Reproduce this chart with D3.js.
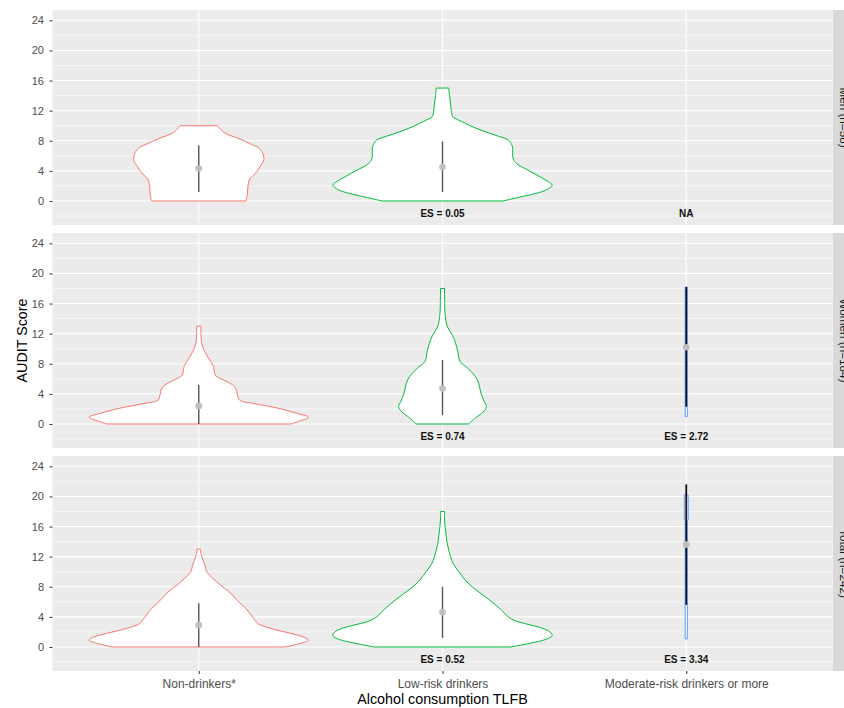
<!DOCTYPE html>
<html><head><meta charset="utf-8">
<script src="https://cdn.jsdelivr.net/npm/d3@7"></script>
<style>body{margin:0;background:#fff;} svg{display:block;font-family:"Liberation Sans",Arial,sans-serif;}</style>
</head><body><svg id="chart" width="844" height="708"></svg>
<script>
// ---------- DATA ----------
const categories = ["Non-drinkers*", "Low-risk drinkers", "Moderate-risk drinkers or more"];
const panels = ["Men (n=58)", "Women (n=184)", "Total (n=242)"];
const yTicks = [0, 4, 8, 12, 16, 20, 24];
const yMinor = [-2, 2, 6, 10, 14, 18, 22];
const xTitle = "Alcohol consumption TLFB";
const yTitle = "AUDIT Score";

// violin outlines: AUDIT score levels and relative width (% of widest violin)
const menNonY   = [0, 0.6, 2.1, 2.8, 3.3, 3.9, 4.6, 5.3, 6.1, 7.0, 7.6, 8.2, 9.1, 10];
const menNonW   = [43, 44, 45, 46, 49, 53, 56, 59, 59, 55, 47, 38, 23, 17];
const menLowY   = [0, 0.3, 0.6, 1.0, 1.5, 2.1, 2.6, 3.2, 4.1, 4.8, 5.4, 6.0, 7.0, 7.5, 8.1, 8.6, 9.2, 9.7, 10.3, 10.8, 11.2, 12, 13, 14, 15];
const menLowW   = [55, 64, 73, 85, 95, 100, 96, 89, 78, 69, 65, 64, 64, 63, 60, 51, 39, 30, 21, 14, 9.4, 8, 7.3, 6.4, 5.7];
const womNonY   = [0, 0.3, 0.9, 1.4, 2.1, 2.7, 3.2, 4.1, 4.9, 5.6, 6.1, 6.5, 7.2, 7.8, 8.5, 9.6, 10.7, 12, 13];
const womNonW   = [84, 90, 100, 90, 72, 51, 37, 35, 33, 26, 19, 15, 14, 13, 10, 5.5, 2.7, 2, 1.8];
const womLowY   = [0, 0.8, 1.6, 2.3, 3.0, 4.1, 5.4, 6.3, 7.4, 8.3, 9.6, 10.7, 11.8, 12.9, 14.7, 16, 18];
const womLowW   = [24, 30, 37, 40, 38, 35, 33, 30, 23, 16, 14, 12, 9, 4.5, 2.3, 2, 1.8];
const womModY   = [1.0, 18.2];
const womModW   = [1, 1];
const totNonY   = [0, 0.5, 0.9, 1.3, 1.8, 2.5, 3.1, 4.0, 5.1, 6.2, 7.3, 8.2, 9.1, 10.0, 10.9, 12, 13];
const totNonW   = [79, 93, 100, 96, 84, 65, 54, 49, 43, 35, 28, 20, 13, 7.3, 5.5, 2.7, 1.5];
const totLowY   = [0, 0.5, 1, 1.5, 2, 2.5, 3, 3.5, 4, 5, 6, 7, 8, 9, 10, 11, 12, 13, 14, 15, 16, 17, 18];
const totLowW   = [62, 80, 94, 100, 98, 91, 78, 66, 60, 53, 45, 36, 27, 20, 15, 10, 7.3, 5.5, 4, 3.2, 2.3, 1.8, 1.8];
const totModY   = [1.06, 16.8, 16.9, 20.2];
const totModW   = [1, 1, 1.8, 1.8];

// summary (mean and ± SD range) per panel/category
const sumPanel = [0, 0, 1, 1, 1, 2, 2, 2];
const sumCat   = [0, 1, 0, 1, 2, 0, 1, 2];
const sumLow   = [1.2, 1.2, 0, 1.2, 2.3, 0, 1.2, 5.6];
const sumHigh  = [7.4, 7.9, 5.2, 8.5, 18.2, 5.8, 8.0, 21.6];
const sumMean  = [4.3, 4.5, 2.4, 4.7, 10.2, 2.9, 4.6, 13.6];

// effect-size labels
const esPanel = [0, 0, 1, 1, 2, 2];
const esCat   = [1, 2, 1, 2, 1, 2];
const esText  = ["ES = 0.05", "NA", "ES = 0.74", "ES = 2.72", "ES = 0.52", "ES = 3.34"];
const esY = -1.6;

const violins = [
  {panel: 0, cat: 0, ys: menNonY, ws: menNonW},
  {panel: 0, cat: 1, ys: menLowY, ws: menLowW},
  {panel: 1, cat: 0, ys: womNonY, ws: womNonW},
  {panel: 1, cat: 1, ys: womLowY, ws: womLowW},
  {panel: 1, cat: 2, ys: womModY, ws: womModW},
  {panel: 2, cat: 0, ys: totNonY, ws: totNonW},
  {panel: 2, cat: 1, ys: totLowY, ws: totLowW},
  {panel: 2, cat: 2, ys: totModY, ws: totModW}
];

// ---------- LAYOUT ----------
const svg = d3.select("#chart");
const panelLeft = 52.5, panelRight = 832.5;
const panelTops = [10, 233, 456], panelH = 215;
const yDomain = [-3.19, 25.37];
const x = d3.scalePoint().domain(categories).range([panelLeft, panelRight]).padding(0.6);
const step = x.step();
const color = d3.scaleOrdinal().domain(categories).range(["#F8766D", "#00BA38", "#619CFF"]);
const FONT = "'Liberation Sans', Arial, sans-serif";

svg.append("rect").attr("width", 844).attr("height", 708).attr("fill", "#fff");

panels.forEach((pName, i) => {
  const top = panelTops[i], bottom = top + panelH;
  const y = d3.scaleLinear().domain(yDomain).range([bottom, top]);
  const g = svg.append("g");
  g.append("rect").attr("x", panelLeft).attr("y", top)
    .attr("width", panelRight - panelLeft).attr("height", panelH).attr("fill", "#EBEBEB");
  g.selectAll(".minor").data(yMinor).join("line")
    .attr("x1", panelLeft).attr("x2", panelRight)
    .attr("y1", d => y(d)).attr("y2", d => y(d))
    .attr("stroke", "#fff").attr("stroke-width", 0.55);
  g.selectAll(".major").data(yTicks).join("line")
    .attr("x1", panelLeft).attr("x2", panelRight)
    .attr("y1", d => y(d)).attr("y2", d => y(d))
    .attr("stroke", "#fff").attr("stroke-width", 1.1);
  g.selectAll(".vmajor").data(categories).join("line")
    .attr("x1", d => x(d)).attr("x2", d => x(d))
    .attr("y1", top).attr("y2", bottom)
    .attr("stroke", "#fff").attr("stroke-width", 1.1);

  // violins
  violins.filter(v => v.panel === i).forEach(v => {
    const data = v.ys.map((yy, k) => ({y: yy, w: v.ws[k]}));
    const cx = x(categories[v.cat]);
    const hw = d => d.w / 100 * 0.45 * step;
    const area = d3.area()
      .y(d => y(d.y))
      .x0(d => cx - hw(d))
      .x1(d => cx + hw(d))
      .curve(data.length > 4 ? d3.curveCatmullRom.alpha(0.5) : d3.curveLinear);
    g.append("path").attr("d", area(data))
      .attr("fill", "#fff").attr("stroke", color(categories[v.cat]))
      .attr("stroke-width", 1);
  });

  // summary lines & mean points
  sumPanel.forEach((p, k) => {
    if (p !== i) return;
    const cx = x(categories[sumCat[k]]);
    const dark = sumCat[k] === 2;
    g.append("line").attr("x1", cx).attr("x2", cx)
      .attr("y1", y(sumLow[k])).attr("y2", y(sumHigh[k]))
      .attr("stroke", dark ? "#111" : "#555").attr("stroke-width", dark ? 1.8 : 1.4);
  });
  sumPanel.forEach((p, k) => {
    if (p !== i) return;
    g.append("circle").attr("cx", x(categories[sumCat[k]])).attr("cy", y(sumMean[k]))
      .attr("r", 3.3).attr("fill", "#BEBEBE");
  });

  // ES labels
  esPanel.forEach((p, k) => {
    if (p !== i) return;
    g.append("text").attr("x", x(categories[esCat[k]])).attr("y", y(esY))
      .attr("dy", "0.35em").attr("text-anchor", "middle")
      .attr("font-family", FONT).attr("font-size", "10px").attr("font-weight", "bold")
      .attr("fill", "#111").text(esText[k]);
  });

  // y axis
  const ax = g.append("g").attr("transform", `translate(${panelLeft},0)`)
    .call(d3.axisLeft(y).tickValues(yTicks).tickSize(3).tickPadding(5.5));
  ax.select(".domain").remove();
  ax.attr("font-family", FONT).attr("font-size", "11px");
  ax.selectAll("line").attr("stroke", "#333").attr("stroke-width", 1);
  ax.selectAll("text").attr("fill", "#4d4d4d");

  // strip
  g.append("rect").attr("x", panelRight + 0.3).attr("y", top)
    .attr("width", 24).attr("height", panelH).attr("fill", "#D9D9D9");
  g.append("text")
    .attr("transform", `translate(${panelRight + 11.8},${(top + bottom) / 2}) rotate(90)`)
    .attr("text-anchor", "middle").attr("dy", "0.35em")
    .attr("font-family", FONT).attr("font-size", "11.7px").attr("fill", "#1a1a1a")
    .text(pName);
});

// x axis under last panel
const lastBottom = panelTops[2] + panelH;
const xa = svg.append("g").attr("transform", `translate(0,${lastBottom})`)
  .call(d3.axisBottom(x).tickSize(3).tickPadding(5));
xa.select(".domain").remove();
xa.attr("font-family", FONT).attr("font-size", "12px");
xa.selectAll("line").attr("stroke", "#333");
xa.selectAll("text").attr("fill", "#4d4d4d");

// titles
svg.append("text").attr("x", (panelLeft + panelRight) / 2).attr("y", 704)
  .attr("text-anchor", "middle").attr("font-family", FONT).attr("font-size", "14.3px")
  .attr("fill", "#000").text(xTitle);
svg.append("text")
  .attr("transform", `translate(27,${(panelTops[0] + lastBottom) / 2}) rotate(-90)`)
  .attr("text-anchor", "middle").attr("font-family", FONT).attr("font-size", "14.3px")
  .attr("fill", "#000").text(yTitle);
</script></body></html>
